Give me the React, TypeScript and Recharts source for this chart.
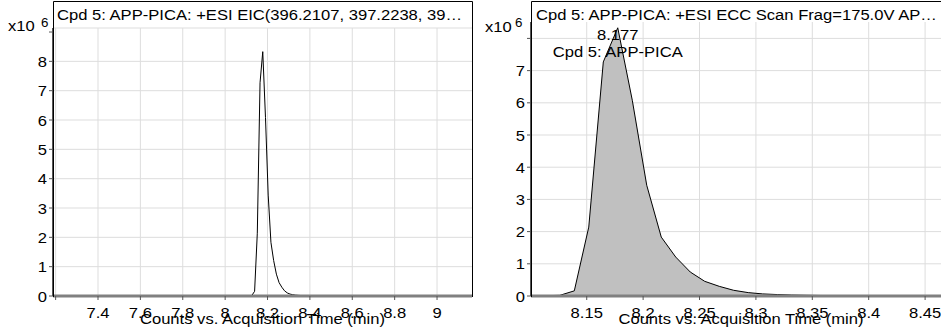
import React from 'react';
import {
  ComposedChart,
  Line,
  Area,
  XAxis,
  YAxis,
  CartesianGrid,
  ReferenceLine,
  ReferenceDot,
} from 'recharts';

// ---- data (acquisition time in min, counts in x10^6) ----
const acqTime = [
  7.1876, 7.6, 8.0, 8.1004, 8.1132, 8.1261, 8.139, 8.1518, 8.1647, 8.1775,
  8.1904, 8.2032, 8.2161, 8.2289, 8.2418, 8.2546, 8.2675, 8.2803, 8.2932, 8.306,
  8.3189, 8.3317, 8.3446, 8.3574, 8.3703, 8.3831, 8.396, 8.4088, 8.4217, 8.4345,
  8.4474, 8.4602, 8.4731, 8.6, 8.8, 9.165,
];
const counts = [
  0, 0, 0, 0.01, 0.01, 0.02, 0.16, 2.14, 7.27, 8.33,
  6.08, 3.44, 1.83, 1.21, 0.745, 0.456, 0.3, 0.177, 0.105, 0.065,
  0.045, 0.03, 0.022, 0.016, 0.012, 0.01, 0.008, 0.007, 0.006, 0.005,
  0.005, 0.004, 0.004, 0.002, 0.001, 0,
];

const leftXTicks = [7.2, 7.4, 7.6, 7.8, 8, 8.2, 8.4, 8.6, 8.8, 9];
const leftXHidden = [7.2];
const leftYTicks = [0, 1, 2, 3, 4, 5, 6, 7, 8, 9];
const leftYGrid = [0, 1, 2, 3, 4, 5, 6, 7, 8];
const rightXTicks = [8.15, 8.2, 8.25, 8.3, 8.35, 8.4, 8.45];
const rightYTicks = [0, 1, 2, 3, 4, 5, 6, 7, 8];

const leftTitle = 'Cpd 5: APP-PICA: +ESI EIC(396.2107, 397.2238, 39\u2026';
const rightTitle = 'Cpd 5: APP-PICA: +ESI ECC Scan Frag=175.0V AP\u2026';
const axisTitle = 'Counts vs. Acquisition Time (min)';
const peakTime = 8.1775;
const peakValue = 8.33;
const peakLabel = '8.177';
const peakName = 'Cpd 5: APP-PICA';

const LEFT_X_DOMAIN: [number, number] = [7.1876, 9.165];
const RIGHT_X_DOMAIN: [number, number] = [8.1006, 8.4641];
const LEFT_Y_MAX = 9.137;
const RIGHT_Y_MAX = 8.51;

const FONT = '"Liberation Sans", Arial, Helvetica, sans-serif';
const FS = 15.5;
const SX = 1.07;

function STxt(props: any) {
  const { x, y, anchor, dy, size, children, fill } = props;
  return (
    <text
      transform={`translate(${x},${y}) scale(${SX},1)`}
      textAnchor={anchor || 'start'}
      dy={dy || 0}
      fontSize={size || FS}
      fontFamily={FONT}
      fill={fill || '#000'}
    >
      {children}
    </text>
  );
}

const makeXTick = (hidden: number[]) => (props: any) => {
  const { x, y, payload } = props;
  if (hidden.includes(payload.value)) return <g />;
  return (
    <STxt x={x} y={y} anchor="middle" dy="0.72em">
      {String(payload.value)}
    </STxt>
  );
};

const makeYTick = (hideValue: number) => (props: any) => {
  const { x, y, payload } = props;
  if (payload.value === hideValue) return <g />;
  return (
    <STxt x={x} y={y} anchor="end" dy="0.36em">
      {String(payload.value)}
    </STxt>
  );
};

const PeakShape = (props: any) => {
  const { cx, cy } = props;
  return (
    <g>
      <STxt x={cx} y={cy + 12} anchor="middle">
        {peakLabel}
      </STxt>
      <STxt x={cx} y={cy + 29} anchor="middle">
        {peakName}
      </STxt>
    </g>
  );
};

export default function App() {
  const data = acqTime.map((t, i) => ({ t, c: counts[i] }));
  return (
    <div
      style={{
        position: 'absolute',
        left: 0,
        top: 0,
        width: 941,
        height: 332,
        background: '#fff',
        overflow: 'hidden',
      }}
    >
      <div style={{ position: 'absolute', left: 0, top: 0 }}>
        <ComposedChart
          width={480}
          height={332}
          data={data}
          margin={{ top: 28, right: 8, bottom: 0, left: 0 }}
        >
          <CartesianGrid
            stroke="#dddddd"
            strokeWidth={1}
            horizontalValues={leftYGrid}
            verticalValues={leftXTicks}
          />
          <ReferenceLine y={LEFT_Y_MAX} stroke="#dddddd" strokeWidth={1} />
          <XAxis
            dataKey="t"
            type="number"
            domain={LEFT_X_DOMAIN}
            allowDataOverflow
            ticks={leftXTicks}
            interval={0}
            height={36}
            tickSize={4}
            tickMargin={7}
            axisLine={{ stroke: '#808080', strokeWidth: 3 }}
            tickLine={{ stroke: '#555' }}
            tick={makeXTick(leftXHidden)}
          />
          <YAxis
            type="number"
            domain={[0, LEFT_Y_MAX]}
            allowDataOverflow
            ticks={leftYTicks}
            interval={0}
            width={53}
            tickSize={4}
            tickMargin={2}
            axisLine={{ stroke: '#555', strokeWidth: 2 }}
            tickLine={{ stroke: '#555' }}
            tick={makeYTick(9)}
          />
          <Line
            dataKey="c"
            type="linear"
            stroke="#000"
            strokeWidth={1}
            dot={false}
            isAnimationActive={false}
          />
        </ComposedChart>
      </div>

      <div style={{ position: 'absolute', left: 478, top: 0 }}>
        <ComposedChart
          width={463}
          height={332}
          data={data}
          margin={{ top: 22, right: 0, bottom: 0, left: 0 }}
        >
          <CartesianGrid
            stroke="#dddddd"
            strokeWidth={1}
            horizontalValues={rightYTicks}
            verticalValues={rightXTicks}
          />
          <XAxis
            dataKey="t"
            type="number"
            domain={RIGHT_X_DOMAIN}
            allowDataOverflow
            ticks={rightXTicks}
            interval={0}
            height={36}
            tickSize={4}
            tickMargin={7}
            axisLine={{ stroke: '#808080', strokeWidth: 3 }}
            tickLine={{ stroke: '#555' }}
            tick={makeXTick([])}
          />
          <YAxis
            type="number"
            domain={[0, RIGHT_Y_MAX]}
            allowDataOverflow
            ticks={rightYTicks}
            interval={0}
            width={53}
            tickSize={4}
            tickMargin={2}
            axisLine={{ stroke: '#555', strokeWidth: 2 }}
            tickLine={{ stroke: '#555' }}
            tick={makeYTick(8)}
          />
          <Area
            dataKey="c"
            type="linear"
            stroke="#000"
            strokeWidth={1}
            fill="#c0c0c0"
            fillOpacity={1}
            dot={false}
            activeDot={false}
            isAnimationActive={false}
          />
          <ReferenceDot
            x={peakTime}
            y={peakValue}
            r={0}
            shape={PeakShape}
          />
        </ComposedChart>
      </div>

      <svg
        width={941}
        height={332}
        style={{ position: 'absolute', left: 0, top: 0, pointerEvents: 'none' }}
      >
        <path d="M53.5 297 V1.5 H472.5 V297" stroke="#000" strokeWidth={1} fill="none" />
        <path d="M531.5 297 V1.5 H945" stroke="#000" strokeWidth={1} fill="none" />
        <STxt x={57} y={20}>{leftTitle}</STxt>
        <STxt x={536} y={20}>{rightTitle}</STxt>
        <STxt x={8} y={30.5}>x10</STxt>
        <STxt x={41} y={26.7} size={12.5}>6</STxt>
        <STxt x={485} y={31.5}>x10</STxt>
        <STxt x={515} y={27} size={12.5}>6</STxt>
        <STxt x={262.5} y={324} anchor="middle">{axisTitle}</STxt>
        <STxt x={741} y={324} anchor="middle">{axisTitle}</STxt>
      </svg>
    </div>
  );
}
